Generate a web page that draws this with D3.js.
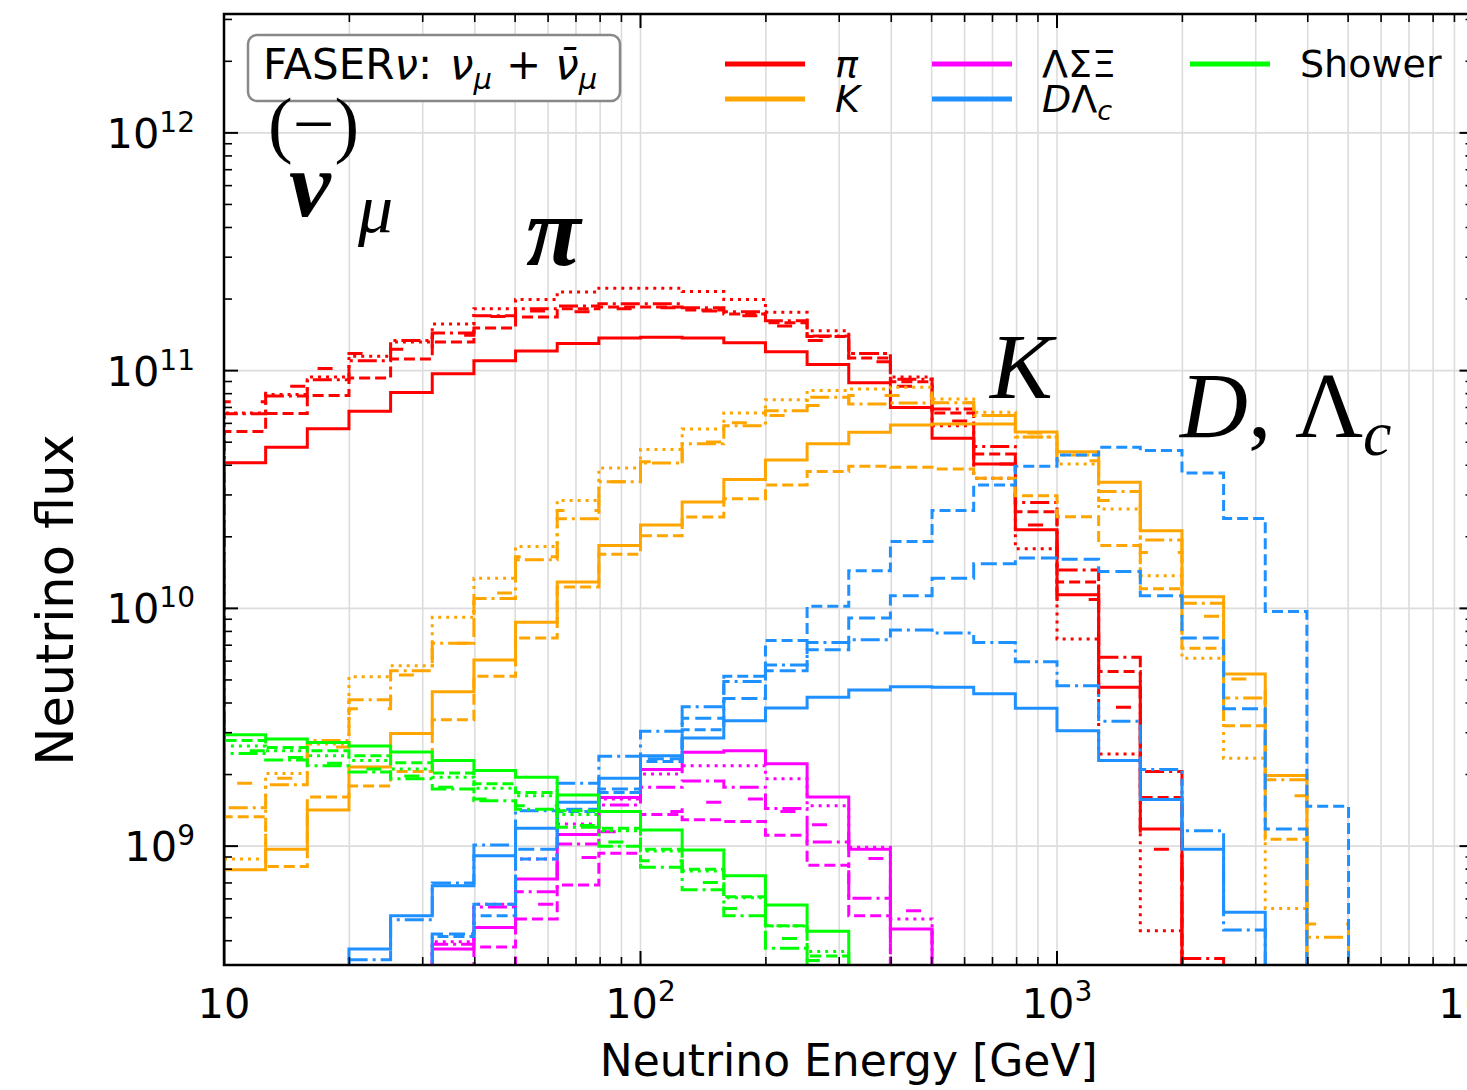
<!DOCTYPE html>
<html><head><meta charset="utf-8">
<script src="https://cdn.jsdelivr.net/npm/d3@7"></script>
<style>body{margin:0;background:#fff;overflow:hidden;} svg{display:block;}</style>
</head><body>
<svg id="chart" width="1467" height="1090"></svg>
<script>
// ---- data ----
const binEdges = [10, 12.589, 15.849, 19.953, 25.119, 31.623, 39.811, 50.119, 63.096, 79.433,
  100, 125.89, 158.49, 199.53, 251.19, 316.23, 398.11, 501.19, 630.96, 794.33,
  1000, 1258.9, 1584.9, 1995.3, 2511.9, 3162.3, 3981.1, 5011.9, 6309.6, 7943.3, 10000];

const piSolid    = [4.1e10,4.76e10,5.7e10,6.75e10,8.1e10,9.7e10,1.10e11,1.21e11,1.30e11,1.37e11,1.38e11,1.37e11,1.31e11,1.20e11,1.06e11,8.9e10,7.0e10,5.2e10,4.05e10,2.14e10,1.14e10,4.66e9,1.18e9,0,0,0,0,0,0,0];
const piDashed   = [5.55e10,6.6e10,7.85e10,9.3e10,1.12e11,1.32e11,1.51e11,1.68e11,1.82e11,1.85e11,1.85e11,1.80e11,1.73e11,1.59e11,1.39e11,1.13e11,8.97e10,6.64e10,4.46e10,2.55e10,1.29e10,5.42e9,1.60e9,0,0,0,0,0,0,0];
const piDashDot  = [6.58e10,7.83e10,9.15e10,1.10e11,1.34e11,1.44e11,1.70e11,1.82e11,1.87e11,1.91e11,1.91e11,1.84e11,1.77e11,1.62e11,1.40e11,1.18e11,9.2e10,6.9e10,4.8e10,2.79e10,1.45e10,6.23e9,2.06e9,3.37e8,0,0,0,0,0,0];
const piDotted   = [6.64e10,7.93e10,9.4e10,1.15e11,1.32e11,1.57e11,1.82e11,1.99e11,2.14e11,2.22e11,2.22e11,2.15e11,1.99e11,1.76e11,1.47e11,1.18e11,9.4e10,5.87e10,3.53e10,1.78e10,7.44e9,2.44e9,4.41e8,0,0,0,0,0,0,0];
const piLoose    = [7.4e10,8.6e10,1.02e11,1.18e11,1.23e11,1.41e11,1.69e11,1.78e11,1.77e11,1.82e11,1.84e11,1.78e11,1.70e11,1.54e11,1.34e11,1.09e11,8.6e10,6.14e10,4.05e10,2.24e10,1.09e10,3.84e9,9.7e8,0,0,0,0,0,0,0];

const kSolid     = [7.96e8,9.7e8,1.42e9,2.15e9,2.98e9,4.46e9,6.06e9,8.74e9,1.29e10,1.84e10,2.24e10,2.80e10,3.48e10,4.21e10,4.92e10,5.50e10,5.9e10,5.97e10,5.97e10,5.52e10,4.56e10,3.39e10,2.12e10,1.12e10,5.3e9,1.98e9,0,0,0,0];
const kDashed    = [1.33e9,8.2e8,1.61e9,1.79e9,2.06e9,3.40e9,5.18e9,7.5e9,1.23e10,1.69e10,2.02e10,2.42e10,2.89e10,3.30e10,3.76e10,3.96e10,3.92e10,3.86e10,3.53e10,2.98e10,2.43e10,1.84e10,1.21e10,6.80e9,3.21e9,1.07e9,0,0,0,0];
const kDashDot   = [1.45e9,1.81e9,2.78e9,4.13e9,5.47e9,7.14e9,1.10e10,1.60e10,2.38e10,3.41e10,4.09e10,4.92e10,5.87e10,6.78e10,7.73e10,7.24e10,7.3e10,7.32e10,6.47e10,5.26e10,4.42e10,3.10e10,1.94e10,1.05e10,4.20e9,1.90e9,4.14e8,0,0,0];
const kDotted    = [8.83e8,2.02e9,2.69e9,5.16e9,5.74e9,9.18e9,1.34e10,1.82e10,2.84e10,3.89e10,4.66e10,5.68e10,6.64e10,7.54e10,8.24e10,8.37e10,8.51e10,7.59e10,6.68e10,5.26e10,4.05e10,2.62e10,1.37e10,6.17e9,2.34e9,5.47e8,0,0,0,0];
const kLoose     = [1.84e9,1.93e9,2.61e9,3.78e9,5.25e9,7.14e9,1.16e10,1.65e10,2.58e10,3.41e10,4.14e10,5.01e10,6.03e10,6.47e10,7.13e10,7.85e10,7.85e10,7.32e10,6.47e10,5.47e10,4.18e10,2.84e10,1.72e10,9.27e9,5.05e9,1.63e9,4.70e8,0,0,0];

const lamSolid   = [0,0,0,0,0,3.69e8,4.55e8,7.27e8,1.12e9,1.60e9,2.10e9,2.48e9,2.52e9,2.22e9,1.61e9,9.7e8,4.48e8,0,0,0,0,0,0,0,0,0,0,0,0,0];
const lamDotted  = [0,0,0,0,0,3.96e8,5.7e8,8.83e8,1.24e9,1.58e9,2.01e9,2.18e9,2.18e9,1.92e9,1.48e9,9.9e8,4.94e8,0,0,0,0,0,0,0,0,0,0,0,0,0];
const lamDashDot = [0,0,0,0,0,3.87e8,5.55e8,6.43e8,1.02e9,1.49e9,1.77e9,1.88e9,1.77e9,1.44e9,1.04e9,6.03e8,0,0,0,0,0,0,0,0,0,0,0,0,0,0];
const lamDashed  = [0,0,0,0,0,0,3.76e8,4.94e8,6.86e8,9.33e8,1.36e9,1.29e9,1.27e9,1.11e9,8.3e8,5.1e8,0,0,0,0,0,0,0,0,0,0,0,0,0,0];
const lamLoose   = [0,0,0,0,0,0,0,5.7e8,8.95e8,1.15e9,1.40e9,1.53e9,1.58e9,1.40e9,1.23e9,8.88e8,5.35e8,0,0,0,0,0,0,0,0,0,0,0,0,0];

const dSolid     = [0,0,0,3.69e8,5.1e8,6.82e8,9.1e8,1.19e9,1.53e9,1.93e9,2.40e9,2.85e9,3.37e9,3.81e9,4.23e9,4.54e9,4.68e9,4.66e9,4.37e9,3.80e9,3.06e9,2.29e9,1.57e9,9.7e8,5.27e8,0,0,0,0,0];
const dDashed    = [0,0,0,0,0,4.17e8,5.1e8,8.83e8,1.40e9,1.68e9,2.27e9,3.09e9,5.18e9,7.32e9,1.02e10,1.44e10,1.91e10,2.58e10,3.30e10,3.96e10,4.42e10,4.76e10,4.61e10,3.71e10,2.39e10,9.7e9,1.47e9,0,0,0];
const dLongDash  = [0,0,0,0,0,4.27e8,5.7e8,9.7e8,1.43e9,1.74e9,2.33e9,3.45e9,4.18e9,5.47e9,6.7e9,9.1e9,1.13e10,1.34e10,1.54e10,1.63e10,1.61e10,1.43e10,1.13e10,7.5e9,3.78e9,1.18e9,0,0,0,0];
const dDashDot   = [0,0,0,3.33e8,4.9e8,7.0e8,1.01e9,1.41e9,1.84e9,2.39e9,3.04e9,3.86e9,4.92e9,5.78e9,7.19e9,7.38e9,8.12e9,7.87e9,7.19e9,5.97e9,4.73e9,3.35e9,2.10e9,1.16e9,4.44e8,0,0,0,0,0];

const shSolid    = [2.94e9,2.82e9,2.73e9,2.64e9,2.49e9,2.29e9,2.08e9,1.95e9,1.64e9,1.40e9,1.17e9,9.64e8,7.5e8,5.65e8,4.38e8,0,0,0,0,0,0,0,0,0,0,0,0,0,0,0];
const shDashed   = [2.78e9,2.60e9,2.52e9,2.40e9,2.24e9,2.03e9,1.83e9,1.68e9,1.41e9,1.19e9,9.7e8,8.0e8,6.12e8,4.63e8,3.45e8,0,0,0,0,0,0,0,0,0,0,0,0,0,0,0];
const shDotted   = [2.64e9,2.52e9,2.40e9,2.29e9,2.11e9,1.95e9,1.75e9,1.63e9,1.36e9,1.16e9,9.53e8,7.86e8,6.06e8,4.61e8,3.6e8,0,0,0,0,0,0,0,0,0,0,0,0,0,0,0];
const shLoose    = [2.52e9,2.36e9,2.23e9,2.11e9,1.97e9,1.77e9,1.58e9,1.48e9,1.22e9,1.04e9,8.67e8,7.03e8,5.47e8,4.09e8,3.3e8,0,0,0,0,0,0,0,0,0,0,0,0,0,0,0];
const shDashDot  = [2.45e9,2.30e9,2.18e9,2.05e9,1.92e9,1.74e9,1.55e9,1.43e9,1.20e9,9.98e8,8.14e8,6.56e8,5.1e8,3.72e8,0,0,0,0,0,0,0,0,0,0,0,0,0,0,0,0];

const xTickValues = [10, 100, 1000, 10000];
const xTickExps   = ["", "2", "3", "4"];
const yTickValues = [1e9, 1e10, 1e11, 1e12];
const yTickExps   = ["9", "10", "11", "12"];
const legendLabels = ["π", "K", "ΛΣΞ", "DΛc", "Shower"];

// ---- styles ----
const RED = "#ff0000", ORANGE = "#ffa500", MAGENTA = "#ff00ff", BLUE = "#1e90ff", GREEN = "#00ff00";
const DASH = {solid: null, dashed: "11,5", dashdot: "19,5,3,5", dotted: "3,5", loose: "15,30", long: "16,6"};

const series = [
  [piSolid, RED, "solid"], [piDashed, RED, "dashed"], [piDashDot, RED, "dashdot"], [piDotted, RED, "dotted"], [piLoose, RED, "loose"],
  [kSolid, ORANGE, "solid"], [kDashed, ORANGE, "dashed"], [kDashDot, ORANGE, "dashdot"], [kDotted, ORANGE, "dotted"], [kLoose, ORANGE, "loose"],
  [lamSolid, MAGENTA, "solid"], [lamDashed, MAGENTA, "dashed"], [lamDashDot, MAGENTA, "dashdot"], [lamDotted, MAGENTA, "dotted"], [lamLoose, MAGENTA, "loose"],
  [dSolid, BLUE, "solid"], [dDashed, BLUE, "dashed"], [dDashDot, BLUE, "dashdot"], [dLongDash, BLUE, "long"],
  [shSolid, GREEN, "solid"], [shDashed, GREEN, "dashed"], [shDashDot, GREEN, "dashdot"], [shDotted, GREEN, "dotted"], [shLoose, GREEN, "loose"]
];

const FONT = "DejaVu Sans";
const SERIF = "Liberation Serif";
const M = {left: 224, top: 14, right: 1473.5, bottom: 965};
const svg = d3.select("#chart");
const x = d3.scaleLog().domain([10, 1e4]).range([M.left, M.right]);
const y = d3.scaleLog().domain([Math.pow(10, 8.5), Math.pow(10, 12.5)]).range([M.bottom, M.top]);

svg.append("rect").attr("width", 1467).attr("height", 1090).attr("fill", "#fff");

// grid
const minorX = [];
[10, 100, 1000].forEach(d => { for (let k = 2; k <= 9; k++) minorX.push(k * d); });
const minorY = [];
[1e8, 1e9, 1e10, 1e11, 1e12].forEach(d => { for (let k = 2; k <= 9; k++) { const v = k * d; if (v > y.domain()[0] && v < y.domain()[1]) minorY.push(v); } });

const grid = svg.append("g").attr("stroke", "#dcdcdc").attr("stroke-width", 1.6);
grid.selectAll(".gx").data(minorX.concat(xTickValues)).enter().append("line")
  .attr("x1", d => x(d)).attr("x2", d => x(d)).attr("y1", M.top).attr("y2", M.bottom);
grid.selectAll(".gy").data(yTickValues).enter().append("line")
  .attr("x1", M.left).attr("x2", M.right).attr("y1", d => y(d)).attr("y2", d => y(d));

// clip
svg.append("defs").append("clipPath").attr("id", "plotclip").append("rect")
  .attr("x", M.left).attr("y", M.top).attr("width", M.right - M.left).attr("height", M.bottom - M.top);

function stepPath(vals) {
  const yb = M.bottom + 30;
  let p = `M${x(binEdges[0])},${yb}`;
  vals.forEach((v, i) => {
    const yy = v > 0 ? y(v) : yb;
    p += `L${x(binEdges[i])},${yy}L${x(binEdges[i + 1])},${yy}`;
  });
  p += `L${x(binEdges[binEdges.length - 1])},${yb}`;
  return p;
}

const lines = svg.append("g").attr("clip-path", "url(#plotclip)");
series.forEach(([vals, color, style]) => {
  lines.append("path").attr("d", stepPath(vals)).attr("fill", "none")
    .attr("stroke", color).attr("stroke-width", 3)
    .attr("stroke-dasharray", DASH[style]).attr("stroke-linejoin", "miter");
});

// spines
const sp = svg.append("g").attr("stroke", "#000").attr("stroke-width", 2.5).attr("fill", "none");
sp.append("rect").attr("x", M.left).attr("y", M.top).attr("width", M.right - M.left).attr("height", M.bottom - M.top);

// ticks (inward, all sides)
const tk = svg.append("g").attr("stroke", "#000");
function xt(vals, len, w) {
  vals.forEach(v => {
    tk.append("line").attr("x1", x(v)).attr("x2", x(v)).attr("y1", M.bottom).attr("y2", M.bottom - len).attr("stroke-width", w);
    tk.append("line").attr("x1", x(v)).attr("x2", x(v)).attr("y1", M.top).attr("y2", M.top + len).attr("stroke-width", w);
  });
}
function yt(vals, len, w) {
  vals.forEach(v => {
    tk.append("line").attr("x1", M.left).attr("x2", M.left + len).attr("y1", y(v)).attr("y2", y(v)).attr("stroke-width", w);
    tk.append("line").attr("x1", M.right).attr("x2", M.right - len).attr("y1", y(v)).attr("y2", y(v)).attr("stroke-width", w);
  });
}
xt(xTickValues, 14, 2); xt(minorX, 8, 1.6);
yt(yTickValues, 14, 2); yt(minorY, 8, 1.6);

// tick labels
const TL = 41.5, SUP = 28;
xTickValues.forEach((v, i) => {
  const t = svg.append("text").attr("x", x(v)).attr("y", 1018).attr("text-anchor", "middle")
    .attr("font-family", FONT).attr("font-size", TL).attr("fill", "#000");
  t.append("tspan").text("10");
  if (xTickExps[i]) t.append("tspan").attr("font-size", SUP).attr("dy", -17).text(xTickExps[i]);
});
yTickValues.forEach((v, i) => {
  const t = svg.append("text").attr("x", 195).attr("y", y(v) + 15).attr("text-anchor", "end")
    .attr("font-family", FONT).attr("font-size", TL).attr("fill", "#000");
  t.append("tspan").text("10");
  t.append("tspan").attr("font-size", SUP).attr("dy", -16).text(yTickExps[i]);
});

// axis labels
svg.append("text").attr("x", (M.left + M.right) / 2).attr("y", 1076).attr("text-anchor", "middle")
  .attr("font-family", FONT).attr("font-size", 44).text("Neutrino Energy [GeV]");
svg.append("text").attr("transform", "translate(73,600) rotate(-90)").attr("text-anchor", "middle")
  .attr("font-family", FONT).attr("font-size", 51).text("Neutrino flux");

// title box
svg.append("rect").attr("x", 248).attr("y", 35).attr("width", 372).attr("height", 66).attr("rx", 9)
  .attr("fill", "#fff").attr("stroke", "#888").attr("stroke-width", 2.5);
const bt = svg.append("text").attr("x", 263).attr("y", 79).attr("font-family", FONT).attr("font-size", 42);
bt.append("tspan").text("FASER");
bt.append("tspan").attr("font-style", "italic").text("ν");
bt.append("tspan").text(":");
bt.append("tspan").attr("font-style", "italic").attr("dx", 18).text("ν");
bt.append("tspan").attr("font-style", "italic").attr("font-size", 29).attr("dy", 10).text("μ");
bt.append("tspan").attr("dy", -10).attr("dx", 14).text("+");
bt.append("tspan").attr("font-style", "italic").attr("dx", 14).text("ν\u0304");
bt.append("tspan").attr("font-style", "italic").attr("font-size", 29).attr("dy", 10).text("μ");

// legend
const legCols = [[725, [[RED, 0], [ORANGE, 1]]], [932, [[MAGENTA, 2], [BLUE, 3]]], [1190, [[GREEN, 4]]]];
legCols.forEach(([lx, items]) => {
  items.forEach(([c, li], r) => {
    const ly = 64 + r * 35;
    svg.append("line").attr("x1", lx).attr("x2", lx + 80).attr("y1", ly).attr("y2", ly)
      .attr("stroke", c).attr("stroke-width", 5);
    const t = svg.append("text").attr("x", lx + 110).attr("y", ly + 13).attr("font-family", FONT).attr("font-size", 38);
    const lab = legendLabels[li];
    if (lab === "π" || lab === "K") t.append("tspan").attr("font-style", "italic").text(lab);
    else if (lab === "DΛc") {
      t.append("tspan").attr("font-style", "italic").text("D");
      t.append("tspan").text("Λ");
      t.append("tspan").attr("font-style", "italic").attr("font-size", 27).attr("dy", 8).text("c");
    } else t.text(lab);
  });
});

// big physics labels
const big = svg.append("g").attr("font-family", SERIF).attr("fill", "#000");
big.append("text").attr("x", 268).attr("y", 149).attr("font-size", 74).text("(−)");
big.append("text").attr("x", 289).attr("y", 216).attr("font-size", 94).attr("font-style", "italic").attr("font-weight", "bold").text("ν");
big.append("text").attr("x", 358).attr("y", 232).attr("font-size", 70).attr("font-style", "italic").text("μ");
big.append("text").attr("x", 526).attr("y", 265).attr("font-size", 100).attr("font-style", "italic").attr("font-weight", "bold").text("π");
big.append("text").attr("x", 990).attr("y", 398).attr("font-size", 94).attr("font-style", "italic").text("K");
const dl = big.append("text").attr("x", 1180).attr("y", 437).attr("font-size", 94);
dl.append("tspan").attr("font-style", "italic").text("D");
dl.append("tspan").text(", Λ");
dl.append("tspan").attr("font-style", "italic").attr("font-size", 64).attr("dy", 18).text("c");
</script>
</body></html>
